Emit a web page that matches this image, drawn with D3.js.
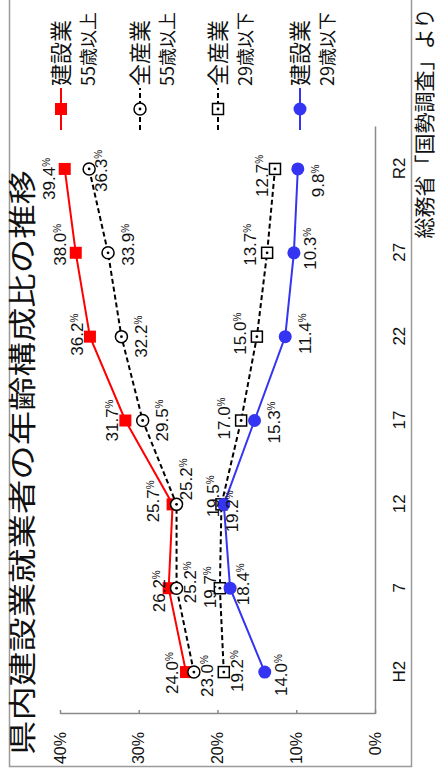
<!DOCTYPE html>
<html>
<head>
<meta charset="utf-8">
<script src="https://cdn.jsdelivr.net/npm/d3@7"></script>
<style>
  html, body { margin: 0; padding: 0; background: #fff; }
  svg { display: block; }
  text { font-family: "Liberation Sans", Arial, "Noto Sans CJK JP", sans-serif; fill: #111; }
  .jp { font-family: "Noto Sans CJK JP", sans-serif; }
</style>
</head>
<body>
<svg id="chart" width="438" height="776"></svg>
<script>
// ---- data -------------------------------------------------------------
const years = ["H2", "7", "12", "17", "22", "27", "R2"];
const constOver55 = [24.0, 26.2, 25.7, 31.7, 36.2, 38.0, 39.4];   // 建設業 55歳以上
const allOver55 = [23.0, 25.2, 25.2, 29.5, 32.2, 33.9, 36.3];     // 全産業 55歳以上
const allUnder29 = [19.2, 19.7, 19.5, 17.0, 15.0, 13.7, 12.7];    // 全産業 29歳以下
const constUnder29 = [14.0, 18.4, 19.2, 15.3, 11.4, 10.3, 9.8];   // 建設業 29歳以下
const yTicks = [0, 10, 20, 30, 40];
const legendLine1 = ["建設業", "全産業", "全産業", "建設業"];
const legendLine2 = ["55歳以上", "55歳以上", "29歳以下", "29歳以下"];
const titleText = "県内建設業就業者の年齢構成比の推移";
const sourceText = "総務省「国勢調査」より";

// ---- label nudges [along category axis, along value axis] ----------------
const nudgeConstOver55 = [[-1, -14], [-3, -10], [3, -20], [0, -13], [2, -13], [8, -16], [-10, -16]];
const nudgeAllOver55 = [[-4, 13], [6, 13], [25, 9], [0, 19], [0, 19], [8, 20], [-2, 12]];
const nudgeAllUnder29 = [[1, 13], [1, -10], [8, -9], [2, -17], [3, -17], [8, -17], [-7, -13]];
const nudgeConstUnder29 = [[-3, 16], [4, 13], [-7, 8], [-2, 19], [3, 20], [4, 16], [-12, 20]];

// ---- layout (drawn upright, then turned a quarter turn) -----------------
const W = 776, H = 438;
const svg = d3.select("#chart");
svg.append("rect").attr("width", 438).attr("height", 776).attr("fill", "#fff");
const g = svg.append("g").attr("transform", `translate(0,${W}) rotate(-90)`);

// outer frame
g.append("path")
  .attr("d", "M800,9.5 H9.5 V411.5 H800")
  .attr("fill", "none").attr("stroke", "#9a9a9a").attr("stroke-width", 1.5);

const x = d3.scalePoint().domain(years).range([62, 649]).padding(0.5);
const y = d3.scaleLinear().domain([0, 40]).range([375, 60]);

// title
g.append("text").attr("class", "jp")
  .attr("x", 21).attr("y", 23).attr("dy", "0.36em")
  .attr("textLength", 585).attr("lengthAdjust", "spacingAndGlyphs")
  .style("font-size", "28px")
  .text(titleText);

// source note
g.append("text").attr("class", "jp")
  .attr("x", 768).attr("y", 424).attr("dy", "0.36em")
  .attr("text-anchor", "end")
  .style("font-size", "21px")
  .text(sourceText);

// axes
const yAxis = g.append("g").attr("transform", "translate(62,0)")
  .call(d3.axisLeft(y).tickValues(yTicks).tickSize(-4).tickSizeOuter(0).tickPadding(18)
    .tickFormat(d => d + "%"));
const xAxis = g.append("g").attr("transform", "translate(0,375)")
  .call(d3.axisBottom(x).tickSize(0).tickSizeOuter(0).tickPadding(18));
[yAxis, xAxis].forEach(a => {
  a.select(".domain").attr("stroke", "#8a8a8a").attr("stroke-width", 1.5);
  a.selectAll(".tick line").attr("stroke", "#8a8a8a").attr("stroke-width", 1.5);
  a.selectAll("text").style("font-size", "17px").attr("fill", "#111")
    .style("font-family", "'Liberation Sans', Arial, sans-serif");
});
yAxis.selectAll(".tick text").style("font-size", "16px");

// series
const series = [
  { values: constOver55, nudge: nudgeConstOver55, color: "#ff0000", dash: null, marker: "square" },
  { values: allOver55, nudge: nudgeAllOver55, color: "#000", dash: "5,3", marker: "ocircle" },
  { values: allUnder29, nudge: nudgeAllUnder29, color: "#000", dash: "5,3", marker: "osquare" },
  { values: constUnder29, nudge: nudgeConstUnder29, color: "#3434f2", dash: null, marker: "circle" }
];

function drawMarker(sel, kind, color) {
  if (kind === "square") {
    sel.append("rect").attr("x", -6).attr("y", -6).attr("width", 12).attr("height", 12)
      .attr("fill", color);
  } else if (kind === "circle") {
    sel.append("circle").attr("r", 6.5).attr("fill", color);
  } else if (kind === "ocircle") {
    sel.append("circle").attr("r", 6).attr("fill", "#fff").attr("stroke", color).attr("stroke-width", 1.5);
    sel.append("circle").attr("r", 1.4).attr("fill", color);
  } else if (kind === "osquare") {
    sel.append("rect").attr("x", -5.5).attr("y", -5.5).attr("width", 11).attr("height", 11)
      .attr("fill", "#fff").attr("stroke", color).attr("stroke-width", 1.5);
    sel.append("circle").attr("r", 1.4).attr("fill", color);
  }
}

const line = d3.line().x((d, i) => x(years[i])).y(d => y(d));

series.forEach(s => {
  g.append("path").datum(s.values)
    .attr("d", line)
    .attr("fill", "none")
    .attr("stroke", s.color)
    .attr("stroke-width", 2)
    .attr("stroke-dasharray", s.dash);
  s.values.forEach((v, i) => {
    const m = g.append("g").attr("transform", `translate(${x(years[i])},${y(v)})`);
    drawMarker(m, s.marker, s.color);
  });
});

// value labels
series.forEach(s => {
  s.values.forEach((v, i) => {
    const t = g.append("text")
      .attr("x", x(years[i]) + s.nudge[i][0])
      .attr("y", y(v) + s.nudge[i][1])
      .attr("dy", "0.36em")
      .attr("text-anchor", "middle")
      .style("font-size", "17px");
    t.append("tspan").text(v.toFixed(1));
    t.append("tspan").attr("dy", "-5").style("font-size", "10px").text("%");
  });
});

// legend
const legendV = [61, 140, 218, 300];
series.forEach((s, k) => {
  const lg = g.append("g").attr("transform", `translate(0,${legendV[k]})`);
  lg.append("line").attr("x1", 646).attr("x2", 688).attr("y1", 0).attr("y2", 0)
    .attr("stroke", s.color).attr("stroke-width", 2).attr("stroke-dasharray", s.dash);
  const m = lg.append("g").attr("transform", "translate(667,0)");
  drawMarker(m, s.marker, s.color);
  lg.append("text").attr("class", "jp").attr("x", 690).attr("y", 0).attr("dy", "0.36em")
    .style("font-size", "22px").text(legendLine1[k]);
  lg.append("text").attr("class", "jp").attr("x", 690).attr("y", 28).attr("dy", "0.36em")
    .style("font-size", "18px").text(legendLine2[k]);
});
</script>
</body>
</html>
